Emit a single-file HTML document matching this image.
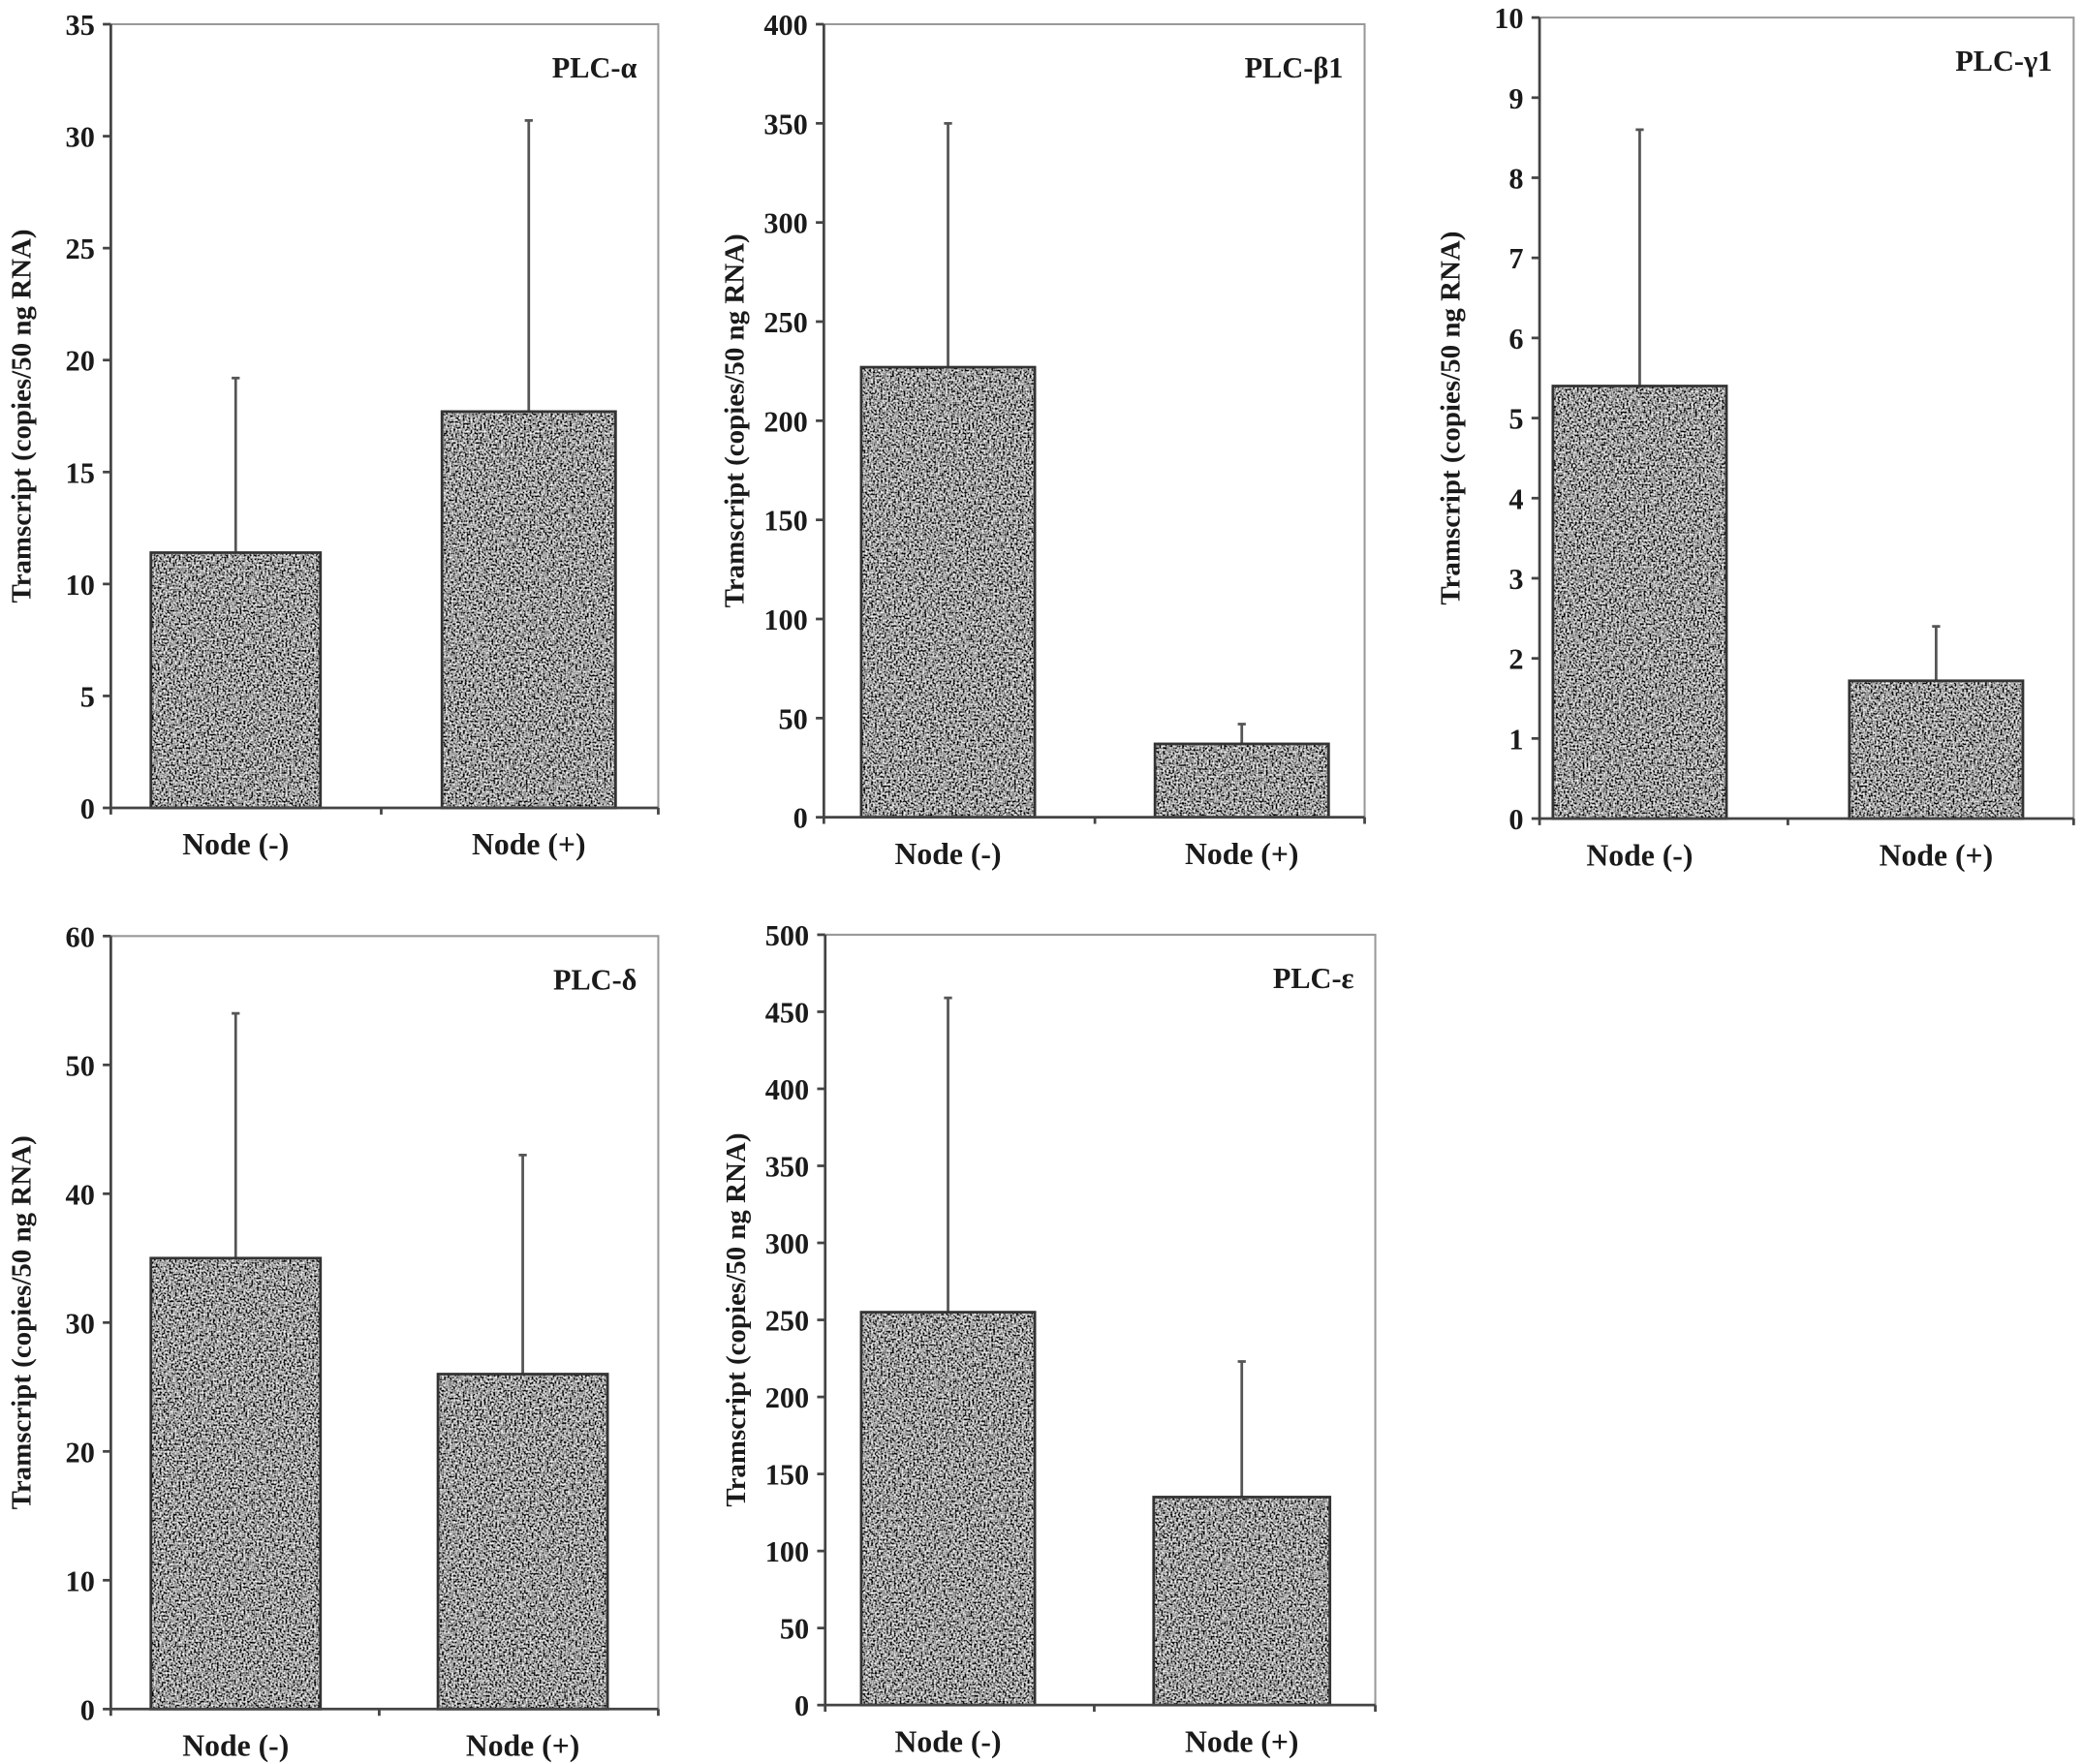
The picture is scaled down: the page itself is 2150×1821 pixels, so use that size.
<!DOCTYPE html>
<html><head><meta charset="utf-8"><style>
html,body{margin:0;padding:0;background:#fff;}
svg{display:block;}
text{font-family:"Liberation Serif",serif;font-weight:bold;fill:#1a1a1a;}
</style></head><body>
<svg id="chart" width="2150" height="1821" viewBox="0 0 1560 1321" xmlns="http://www.w3.org/2000/svg">
<defs>
<filter id="noise" x="0" y="0" width="1" height="1">
<feTurbulence type="fractalNoise" baseFrequency="0.7" numOctaves="1" seed="3"/>
<feColorMatrix type="matrix" values="2.4 0 0 0 -0.85  2.4 0 0 0 -0.85  2.4 0 0 0 -0.85  0 0 0 0 1"/>
<feComposite in2="SourceGraphic" operator="in"/>
</filter>
</defs>
</svg>
<script>
const panelTitles = ["PLC-α","PLC-β1","PLC-γ1","PLC-δ","PLC-ε"];
const categories = ["Node (-)","Node (+)"];
const means = [[11.4,17.7],[227,37],[5.4,1.72],[35,26],[255,135]];
const errTops = [[19.2,30.7],[350,47],[8.6,2.4],[54,43],[459,223]];
const yMax = [35,400,10,60,500];
const yStep = [5,50,1,10,50];

// layout geometry (not data)
const frames = [
  {l:83,t:18,b:605,r:493,bars:[[113,240],[331,461]]},
  {l:617,t:18,b:612,r:1022,bars:[[645,775],[865,995]]},
  {l:1153,t:13,b:613,r:1553,bars:[[1163,1293],[1385,1515]]},
  {l:83,t:701,b:1280,r:493,bars:[[113,240],[328,455]]},
  {l:618,t:700,b:1277,r:1030,bars:[[645,775],[864,996]]}
];
const svg = document.getElementById('chart');
const NS = "http://www.w3.org/2000/svg";
function mk(tag, attrs, parent){const e=document.createElementNS(NS,tag);for(const k in attrs)e.setAttribute(k,attrs[k]);parent.appendChild(e);return e;}

frames.forEach((f,i)=>{
  const g = mk('g',{},svg);
  
  
  const y = v => f.b - v/yMax[i]*(f.b-f.t);
  const fr = mk('path',{d:`M${f.l},${f.t}H${f.r}V${f.b}`,fill:'none',stroke:'#999','stroke-width':1.5},g);
  
  
  for(let j=0;j<2;j++){
    const [x0,x1]=f.bars[j];
    const cx=(x0+x1)/2;
    const eb = mk('path',{d:`M${cx},${y(means[i][j])}V${y(errTops[i][j])}M${cx-3},${y(errTops[i][j])}H${cx+3}`,stroke:'#555','stroke-width':2,fill:'none'},g);
    
    
    const bg = mk('rect',{x:x0,y:y(means[i][j]),width:x1-x0,height:f.b-y(means[i][j]),fill:'#666'},g);
    
    
    const r = mk('rect',{x:x0,y:y(means[i][j]),width:x1-x0,height:f.b-y(means[i][j]),fill:'#666',filter:'url(#noise)'},g);
    
    
    const bo = mk('rect',{x:x0,y:y(means[i][j]),width:x1-x0,height:f.b-y(means[i][j]),fill:'none',stroke:'#333','stroke-width':2},g);
    
    
    const lb = mk('text',{x:cx,y:f.b+35,'text-anchor':'middle','font-size':23},g);
    lb.textContent = categories[j];
    
    
  }
  const ax = mk('path',{d:`M${f.l},${f.t}V${f.b}H${f.r}M${(f.bars[0][1]+f.bars[1][0])/2},${f.b}v5M${f.r},${f.b}v5M${f.l},${f.b}v5`,stroke:'#444','stroke-width':2,fill:'none'},g);
  
  
  for(let v=0; v<=yMax[i]+1e-9; v+=yStep[i]){
    const t = mk('path',{d:`M${f.l-6},${y(v)}H${f.l}`,stroke:'#444','stroke-width':2},g);
    
    
    const tl = mk('text',{x:f.l-12,y:y(v)+8,'text-anchor':'end','font-size':22},g);
    tl.textContent = String(Math.round(v*10)/10);
    
    
  }
  const yt = mk('text',{x:0,y:0,'text-anchor':'middle','font-size':21,transform:`translate(${f.l-60},${(f.t+f.b)/2}) rotate(-90)`},g);
  yt.textContent = "Tramscript (copies/50 ng RNA)";
  
  
  const pt = mk('text',{x:f.r-16,y:f.t+40,'text-anchor':'end','font-size':22},g);
  pt.textContent = panelTitles[i];
  
  
});
</script>
</body></html>
